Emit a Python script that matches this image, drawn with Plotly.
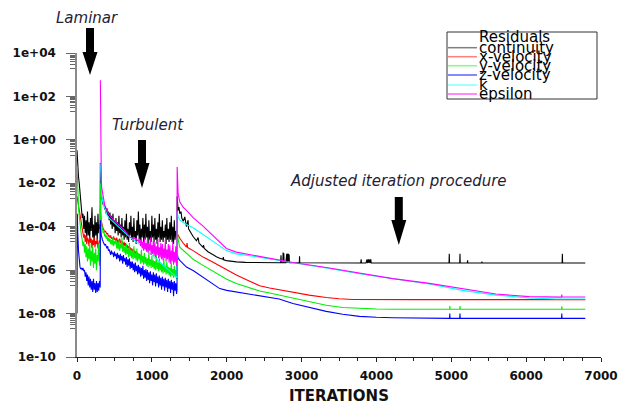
import plotly.graph_objects as go

# ------------------------------------------------------------------
# DATA  (values are log10 of the scaled residual)
# ------------------------------------------------------------------
series_names = ["continuity", "x-velocity", "y-velocity", "z-velocity", "k", "epsilon"]
series_colors = ["#000000", "#ff0000", "#00ee00", "#0000ff", "#00ffff", "#ff00ff"]
legend_colors = ["#808080", "#ff8080", "#80ff80", "#6060ff", "#80ffff", "#ff60ff"]

# shared iteration grids for the noisy laminar / turbulent phases
lam_iter = [0, 5] + list(range(10, 311, 10))
turb_iter = [312, 316, 320, 325, 330] + list(range(340, 1331, 10)) + [1336]

# ---------------- continuity ----------------
cont_lam = [-0.48, -0.9, -1.3, -1.7, -2.0, -2.4, -2.8,
            -3.2, -3.6, -3.4, -4.1, -3.5, -4.3, -3.7, -4.5, -3.3, -4.4,
            -3.8, -4.6, -3.6, -4.2, -3.1, -4.5, -3.9, -4.7, -3.5, -4.4,
            -3.8, -4.6, -3.4, -4.3, -3.9, -4.1]
cont_turb = [-1.07, -1.9, -2.3, -2.5, -2.65,
             -2.8, -3.0, -2.9, -3.2, -3.05, -3.4, -3.15, -3.5, -3.3, -3.7,
             -3.35, -3.9, -3.5, -4.1, -3.4, -4.0, -3.7, -4.3, -3.6, -4.2,
             -3.8, -4.4, -3.5, -4.3, -3.9, -4.5, -3.6, -4.4, -4.0, -4.6,
             -3.7, -4.5, -3.4, -4.6, -4.1, -4.7, -3.8, -4.4, -3.5, -4.6,
             -4.0, -4.7, -3.6, -4.5, -4.2, -4.8, -3.7, -4.4, -3.3, -4.6,
             -3.9, -4.7, -4.1, -4.5, -3.6, -4.7, -3.9, -4.6, -3.4, -4.5,
             -4.0, -4.8, -3.7, -4.6, -4.2, -4.7, -3.5, -4.5, -3.9, -4.7,
             -3.6, -4.6, -4.1, -4.8, -3.8, -4.5, -3.4, -4.7, -4.0, -4.6,
             -3.7, -4.7, -4.2, -4.5, -3.9, -4.8, -3.6, -4.6, -4.1, -4.7,
             -3.8, -4.6, -3.5, -4.7, -4.0, -4.8, -3.7, -4.6, -4.2, -4.5,
             -4.5]
cont_adj_iter = [1338, 1345, 1351, 1362, 1373, 1390, 1400, 1418, 1440, 1462, 1484, 1490,
                 1507, 1551, 1596, 1618, 1630, 1684, 1690, 1700, 1750, 1818, 1862, 1907,
                 1951, 1955, 1960, 1996, 2060, 2129, 2250, 2351, 2500,
                 2720, 2725, 2730, 2750, 2753, 2756, 2760, 2763, 2766,
                 2790, 2794, 2798, 2802, 2806, 2810, 2814, 2818, 2822, 2826, 2830, 2834, 2838, 2842,
                 2970, 2973, 2976, 3790, 3796, 3800,
                 3860, 3865, 3870, 3875, 3880, 3885, 3890, 3895, 3900, 3905, 3910, 3915, 3920, 3925, 3930,
                 4970, 4973, 4976, 5113, 5116, 5119, 5215, 5218, 5221, 5406, 5409, 5412,
                 6481, 6484, 6487, 6790]
cont_adj = [-2.6, -3.0, -3.25, -3.1, -3.4, -3.3, -3.6, -3.75, -3.55, -4.0, -3.7, -4.1,
            -4.2, -4.45, -4.65, -4.5, -4.75, -4.95, -4.85, -5.0, -5.15, -5.3, -5.38, -5.45,
            -5.5, -5.4, -5.52, -5.56, -5.6, -5.62, -5.64, -5.65, -5.66,
            -5.66, -5.32, -5.66, -5.66, -5.19, -5.66, -5.66, -5.22, -5.66,
            -5.66, -5.26, -5.66, -5.25, -5.66, -5.27, -5.66, -5.24, -5.66, -5.28, -5.66, -5.3, -5.66, -5.66,
            -5.66, -5.36, -5.66, -5.67, -5.5, -5.67,
            -5.67, -5.5, -5.67, -5.5, -5.67, -5.5, -5.67, -5.5, -5.67, -5.5, -5.67, -5.5, -5.67, -5.5, -5.67,
            -5.67, -5.24, -5.67, -5.67, -5.24, -5.67, -5.67, -5.55, -5.67, -5.67, -5.6, -5.67,
            -5.67, -5.24, -5.67, -5.67]

# ---------------- x-velocity ----------------
xvel_lam = [-2.6, -2.7, -2.9, -3.15, -3.3, -3.55, -3.8, -4.0, -4.2, -4.3,
            -4.5, -4.35, -4.7, -4.4, -4.8, -4.5, -4.6, -4.9, -4.45, -4.75,
            -4.55, -5.0, -4.6, -4.85, -4.5, -4.95, -4.65, -4.8, -4.55, -5.0,
            -4.7, -4.6, -4.75]
xvel_turb = [-3.1, -3.4, -3.6, -3.75, -3.85,
             -4.0, -4.1, -4.15, -4.25, -4.2, -4.3, -4.35, -4.3, -4.45, -4.4,
             -4.5, -4.4, -4.55, -4.5, -4.6, -4.45, -4.6, -4.55, -4.65, -4.5,
             -4.7, -4.6, -4.75, -4.55, -4.7, -4.8, -4.65, -4.75, -4.85, -4.7,
             -4.9, -4.75, -4.95, -4.85, -5.0, -4.9, -5.05, -4.95, -5.1, -5.0,
             -5.15, -5.05, -5.2, -5.1, -5.25, -5.15, -5.3, -5.2, -5.35, -5.25,
             -5.4, -5.3, -5.45, -5.35, -5.5, -5.4, -5.55, -5.45, -5.6, -5.5,
             -5.6, -5.5, -5.65, -5.55, -5.7, -5.6, -5.75, -5.65, -5.7, -5.6,
             -5.75, -5.65, -5.8, -5.7, -5.85, -5.75, -5.9, -5.8, -5.85, -5.75,
             -5.9, -5.8, -5.95, -5.85, -6.0, -5.9, -6.05, -5.95, -6.0, -5.9,
             -6.05, -5.95, -6.1, -6.0, -6.15, -6.05, -6.1, -6.0, -6.15, -6.1,
             -6.15]
xvel_adj_iter = [1338, 1351, 1373, 1418, 1462, 1470, 1478, 1551, 1684, 1800, 1907, 2000,
                 2129, 2250, 2351, 2440, 2573, 2700, 2884, 3100, 3329, 3500, 3684, 3900,
                 4500, 5500, 6790]
xvel_adj = [-4.3, -4.4, -4.53, -4.75, -4.94, -4.75, -4.96, -5.1, -5.4, -5.6, -5.8, -6.0,
            -6.22, -6.42, -6.58, -6.72, -6.82, -6.9, -7.02, -7.15, -7.26, -7.32, -7.35, -7.36,
            -7.36, -7.36, -7.36]

# ---------------- y-velocity ----------------
yvel_lam = [-1.2, -1.9, -2.5, -3.1, -3.5, -3.9, -4.2, -4.45, -4.6,
            -4.9, -4.7, -5.2, -4.8, -5.4, -4.9, -5.6, -5.0, -5.5, -4.7,
            -5.8, -5.1, -5.6, -4.9, -5.9, -5.2, -5.7, -5.0, -6.0, -5.3,
            -5.6, -4.8, -5.8, -5.2]
yvel_turb = [-2.0, -3.0, -3.5, -3.8, -3.95,
             -4.1, -4.3, -4.2, -4.45, -4.35, -4.55, -4.4, -4.65, -4.5, -4.7,
             -4.55, -4.8, -4.6, -4.85, -4.5, -4.9, -4.65, -4.8, -4.6, -5.0,
             -4.7, -5.05, -4.6, -5.1, -4.8, -5.0, -4.5, -5.15, -4.85, -5.2,
             -4.9, -5.3, -4.8, -5.25, -5.0, -5.4, -4.75, -5.35, -5.05, -5.45,
             -5.1, -5.5, -4.9, -5.45, -5.2, -5.55, -5.0, -5.6, -5.25, -5.5,
             -5.3, -5.7, -5.05, -5.65, -5.35, -5.75, -5.2, -5.7, -5.4, -5.8,
             -5.45, -5.85, -5.2, -5.8, -5.5, -5.9, -5.35, -5.85, -5.55, -5.95,
             -5.6, -6.0, -5.3, -5.95, -5.65, -6.05, -5.45, -6.0, -5.7, -6.1,
             -5.75, -6.15, -5.5, -6.1, -5.8, -6.2, -5.6, -6.15, -5.85, -6.25,
             -5.9, -6.3, -5.65, -6.25, -5.95, -6.35, -5.8, -6.3, -6.0, -6.4,
             -6.35]
vel_adj_iter = [1338, 1351, 1373, 1462, 1551, 1684, 1800, 1907, 2000, 2129, 2250, 2351,
                2440, 2573, 2700, 2884, 3100, 3329, 3550, 3773, 4000, 4218,
                4977, 4980, 4983, 5113, 5116, 5119, 6473, 6476, 6479, 6790]
yvel_adj = [-4.17, -4.6, -4.94, -5.24, -5.5, -5.78, -6.02, -6.24, -6.42, -6.62, -6.76, -6.86,
            -6.96, -7.05, -7.15, -7.3, -7.46, -7.62, -7.72, -7.77, -7.79, -7.8,
            -7.8, -7.65, -7.8, -7.8, -7.65, -7.8, -7.8, -7.67, -7.8, -7.8]

# ---------------- z-velocity ----------------
zvel_lam = [-8.0, -3.4, -4.3, -5.1, -5.6, -5.85, -5.95, -5.9, -6.0, -5.9,
            -6.05, -6.0, -6.3, -6.1, -6.5, -6.2, -6.7, -6.3, -6.8, -6.4,
            -6.9, -6.5, -7.0, -6.4, -6.9, -6.6, -7.05, -6.5, -7.0, -6.6,
            -6.95, -6.5, -6.8]
zvel_turb = [-3.7, -4.0, -4.2, -4.4, -4.55,
             -4.6, -4.7, -4.75, -4.85, -4.8, -4.95, -5.0, -4.9, -5.1, -5.05,
             -5.15, -5.3, -5.1, -5.25, -5.2, -5.4, -5.15, -5.35, -5.25, -5.5,
             -5.2, -5.45, -5.3, -5.6, -5.25, -5.55, -5.35, -5.7, -5.3, -5.6,
             -5.45, -5.75, -5.4, -5.85, -5.5, -5.8, -5.45, -5.95, -5.6, -5.9,
             -5.6, -6.0, -5.7, -6.1, -5.65, -6.05, -5.8, -6.2, -5.75, -6.15,
             -5.85, -6.3, -5.9, -6.25, -5.8, -6.4, -6.0, -6.35, -5.95, -6.5,
             -6.0, -6.45, -6.1, -6.6, -6.05, -6.5, -6.2, -6.7, -6.1, -6.55,
             -6.2, -6.75, -6.15, -6.6, -6.3, -6.8, -6.25, -6.7, -6.35, -6.9,
             -6.3, -6.75, -6.4, -6.95, -6.35, -6.8, -6.45, -7.0, -6.4, -6.85,
             -6.5, -7.05, -6.45, -6.9, -6.55, -7.2, -6.5, -6.95, -6.6, -7.1,
             -6.9]
zvel_adj = [-5.24, -5.45, -5.55, -5.86, -6.02, -6.32, -6.62, -6.85, -6.93, -7.0, -7.06, -7.11,
            -7.19, -7.25, -7.33, -7.54, -7.72, -7.9, -8.03, -8.13, -8.17, -8.19,
            -8.22, -8.0, -8.22, -8.22, -8.0, -8.22, -8.22, -8.0, -8.22, -8.22]

# ---------------- k ----------------
k_turb_iter = [312, 316, 320, 330, 345, 360, 380, 400, 430, 467, 500, 556, 600, 644,
               700, 773, 850, 907, 1000, 1084, 1150, 1218, 1280, 1329, 1336]
k_turb = [-1.09, -1.8, -2.2, -2.6, -2.85, -3.05, -3.3, -3.45, -3.6, -3.72, -3.81, -3.98, -4.14, -4.3,
          -4.47, -4.65, -4.85, -5.01, -5.3, -5.58, -5.78, -5.98, -6.17, -6.33, -6.36]
k_adj_iter = [1338, 1351, 1373, 1462, 1551, 1684, 1862, 1996, 2129, 2351, 2573, 2884, 3329,
              3773, 4218, 4707, 5151, 5596, 6040, 6400, 6790]
k_adj = [-3.3, -3.55, -3.7, -3.9, -4.05, -4.38, -4.78, -5.1, -5.25, -5.36, -5.48, -5.67, -5.9,
         -6.17, -6.41, -6.64, -6.93, -7.15, -7.28, -7.33, -7.33]

# ---------------- epsilon ----------------
eps_turb = [2.74, -0.5, -1.5, -1.9, -2.2,
            -2.45, -2.7, -2.85, -3.0, -3.1, -3.2, -3.28, -3.35, -3.4, -3.45,
            -3.5, -3.53, -3.56, -3.6, -3.65, -3.7, -3.73, -3.76, -3.8, -3.83,
            -3.86, -3.89, -3.92, -3.95, -3.98, -4.02, -4.05, -4.08, -4.12, -4.15,
            -4.2, -4.25, -4.3, -4.35, -4.4, -4.43, -4.45, -4.48, -4.5, -4.5,
            -4.52, -4.5, -4.55, -4.52, -4.58, -4.55, -4.6, -4.65, -4.6, -4.75,
            -4.6, -4.9, -4.5, -5.0, -4.7, -5.1, -4.55, -5.05, -4.75, -5.15,
            -4.6, -5.2, -4.8, -5.1, -4.5, -5.3, -4.85, -5.25, -4.65, -5.35,
            -4.7, -5.4, -4.9, -5.3, -4.55, -5.45, -4.95, -5.4, -4.75, -5.5,
            -4.8, -5.55, -5.0, -5.45, -4.6, -5.6, -5.05, -5.5, -4.8, -5.65,
            -4.85, -5.7, -5.1, -5.6, -4.7, -5.75, -5.15, -5.65, -4.9, -5.8,
            -5.6]
eps_adj_iter = [1338, 1351, 1373, 1418, 1462, 1551, 1684, 1818, 1907, 1996, 2129, 2351, 2573,
                2884, 3329, 3773, 4218, 4707, 4973, 5151, 5596, 6040, 6300, 6473, 6476, 6479, 6790]
eps_adj = [-1.25, -2.48, -2.85, -3.1, -3.25, -3.58, -3.97, -4.4, -4.72, -5.0, -5.17, -5.32, -5.46,
           -5.65, -5.88, -6.14, -6.39, -6.61, -6.76, -6.88, -7.1, -7.22, -7.24, -7.24, -7.12, -7.24, -7.24]

# axis ticks
x_tick_vals = [0, 1000, 2000, 3000, 4000, 5000, 6000, 7000]
y_tick_vals = [1e4, 1e2, 1e0, 1e-2, 1e-4, 1e-6, 1e-8, 1e-10]
y_tick_labels = ["1e+04", "1e+02", "1e+00", "1e-02", "1e-04", "1e-06", "1e-08", "1e-10"]

# annotation texts
phase_labels = ["Laminar", "Turbulent", "Adjusted iteration procedure"]
legend_title = "Residuals"

# ------------------------------------------------------------------
series_x = [
    lam_iter + turb_iter + cont_adj_iter,
    lam_iter + turb_iter + xvel_adj_iter,
    lam_iter + turb_iter + vel_adj_iter,
    lam_iter + turb_iter + vel_adj_iter,
    k_turb_iter + k_adj_iter,
    turb_iter + eps_adj_iter,
]
series_log = [
    cont_lam + cont_turb + cont_adj,
    xvel_lam + xvel_turb + xvel_adj,
    yvel_lam + yvel_turb + yvel_adj,
    zvel_lam + zvel_turb + zvel_adj,
    k_turb + k_adj,
    eps_turb + eps_adj,
]
for xs, ys in zip(series_x, series_log):
    assert len(xs) == len(ys), (len(xs), len(ys))

fig = go.Figure()
for name, color, xs, ys in zip(series_names, series_colors, series_x, series_log):
    fig.add_trace(go.Scatter(
        x=xs, y=[10 ** v for v in ys], mode="lines", name=name,
        line=dict(color=color, width=1.1), showlegend=False, hoverinfo="skip",
    ))

# ------------------------------------------------------------------
# layout helpers (pixel -> paper)
W, H = 626, 405
ML, MR, MT, MB = 77, 25, 53, 48
PW, PH = W - ML - MR, H - MT - MB


def pxx(x):
    return (x - ML) / PW


def pxy(y):
    return (H - MB - y) / PH


def arrow_path(cx, top, neck, tip, sw=4.0, hw=7.5):
    pts = [(cx - sw, top), (cx + sw, top), (cx + sw, neck), (cx + hw, neck),
           (cx, tip), (cx - hw, neck), (cx - sw, neck)]
    return "M " + " L ".join(f"{pxx(a):.5f},{pxy(b):.5f}" for a, b in pts) + " Z"


shapes = []
for cx, top, neck, tip in [(90, 28, 52, 75), (142, 140, 163, 188), (398.8, 197, 220, 245)]:
    shapes.append(dict(type="path", xref="paper", yref="paper", path=arrow_path(cx, top, neck, tip),
                       fillcolor="#000000", line=dict(width=0)))

# manual legend box
shapes.append(dict(type="rect", xref="paper", yref="paper",
                   x0=pxx(447), x1=pxx(597), y0=pxy(99), y1=pxy(32),
                   line=dict(color="#333333", width=1), fillcolor="rgba(255,255,255,0)"))
legend_line_y = [47.7, 56.7, 65.7, 75, 85, 94]
for ly, lc in zip(legend_line_y, legend_colors):
    shapes.append(dict(type="line", xref="paper", yref="paper",
                       x0=pxx(448), x1=pxx(477), y0=pxy(ly), y1=pxy(ly),
                       line=dict(color=lc, width=1.5)))

annotations = []
text_font = dict(family="DejaVu Sans", size=15, color="#1f2233", style="italic")
for label, (cx, cy) in zip(phase_labels, [(87, 18), (148, 125), (398.5, 181)]):
    annotations.append(dict(text=label, x=pxx(cx), y=pxy(cy), xref="paper", yref="paper",
                            xanchor="center", yanchor="middle", showarrow=False, font=text_font))

leg_font = dict(family="DejaVu Sans", size=15, color="#000000")
annotations.append(dict(text=legend_title, x=pxx(477), y=pxy(37), xref="paper", yref="paper",
                        xanchor="left", yanchor="middle", showarrow=False, font=leg_font))
for name, ly in zip(series_names, legend_line_y):
    annotations.append(dict(text=name, x=pxx(477), y=pxy(ly), xref="paper", yref="paper",
                            xanchor="left", yanchor="middle", showarrow=False, font=leg_font))

# minor tick positions on y (the decade below each labelled tick)
y_minor = []
for v in y_tick_vals[:-1]:
    for m in range(2, 10):
        y_minor.append(m * v / 10)

tick_font = dict(family="DejaVu Sans", size=12, color="#111111", weight="bold")

fig.update_layout(
    width=W, height=H, autosize=False,
    margin=dict(l=ML, r=MR, t=MT, b=MB, pad=0, autoexpand=False),
    paper_bgcolor="white", plot_bgcolor="white",
    shapes=shapes, annotations=annotations, showlegend=False,
)
fig.update_xaxes(
    range=[0, 7000], tickvals=x_tick_vals, showgrid=False, zeroline=False, automargin=False,
    showline=True, linecolor="#222222", linewidth=1,
    ticks="outside", ticklen=4, tickcolor="#222222", tickwidth=1,
    minor=dict(dtick=250, ticks="outside", ticklen=2.5, tickcolor="#222222", showgrid=False),
    tickfont=tick_font, ticklabelstandoff=4,
    title=dict(text="ITERATIONS", font=dict(family="DejaVu Sans", size=15, color="#111111", weight="bold"),
               standoff=12),
)
fig.update_yaxes(
    type="log", range=[-10, 4], tickvals=y_tick_vals, ticktext=y_tick_labels, automargin=False,
    showgrid=False, zeroline=False, showline=True, linecolor="#8a8a8a", linewidth=1.5,
    ticks="outside", ticklen=9, tickcolor="#666666", tickwidth=1,
    minor=dict(tickvals=y_minor, ticks="outside", ticklen=5, tickcolor="#666666", showgrid=False),
    tickfont=tick_font, ticklabelstandoff=8,
)

# remove the browser's default 8px page margin so the figure sits at the window's corner
fig.write_html("out.html", config={"displayModeBar": False},
               post_script="document.body.style.margin='0';")
